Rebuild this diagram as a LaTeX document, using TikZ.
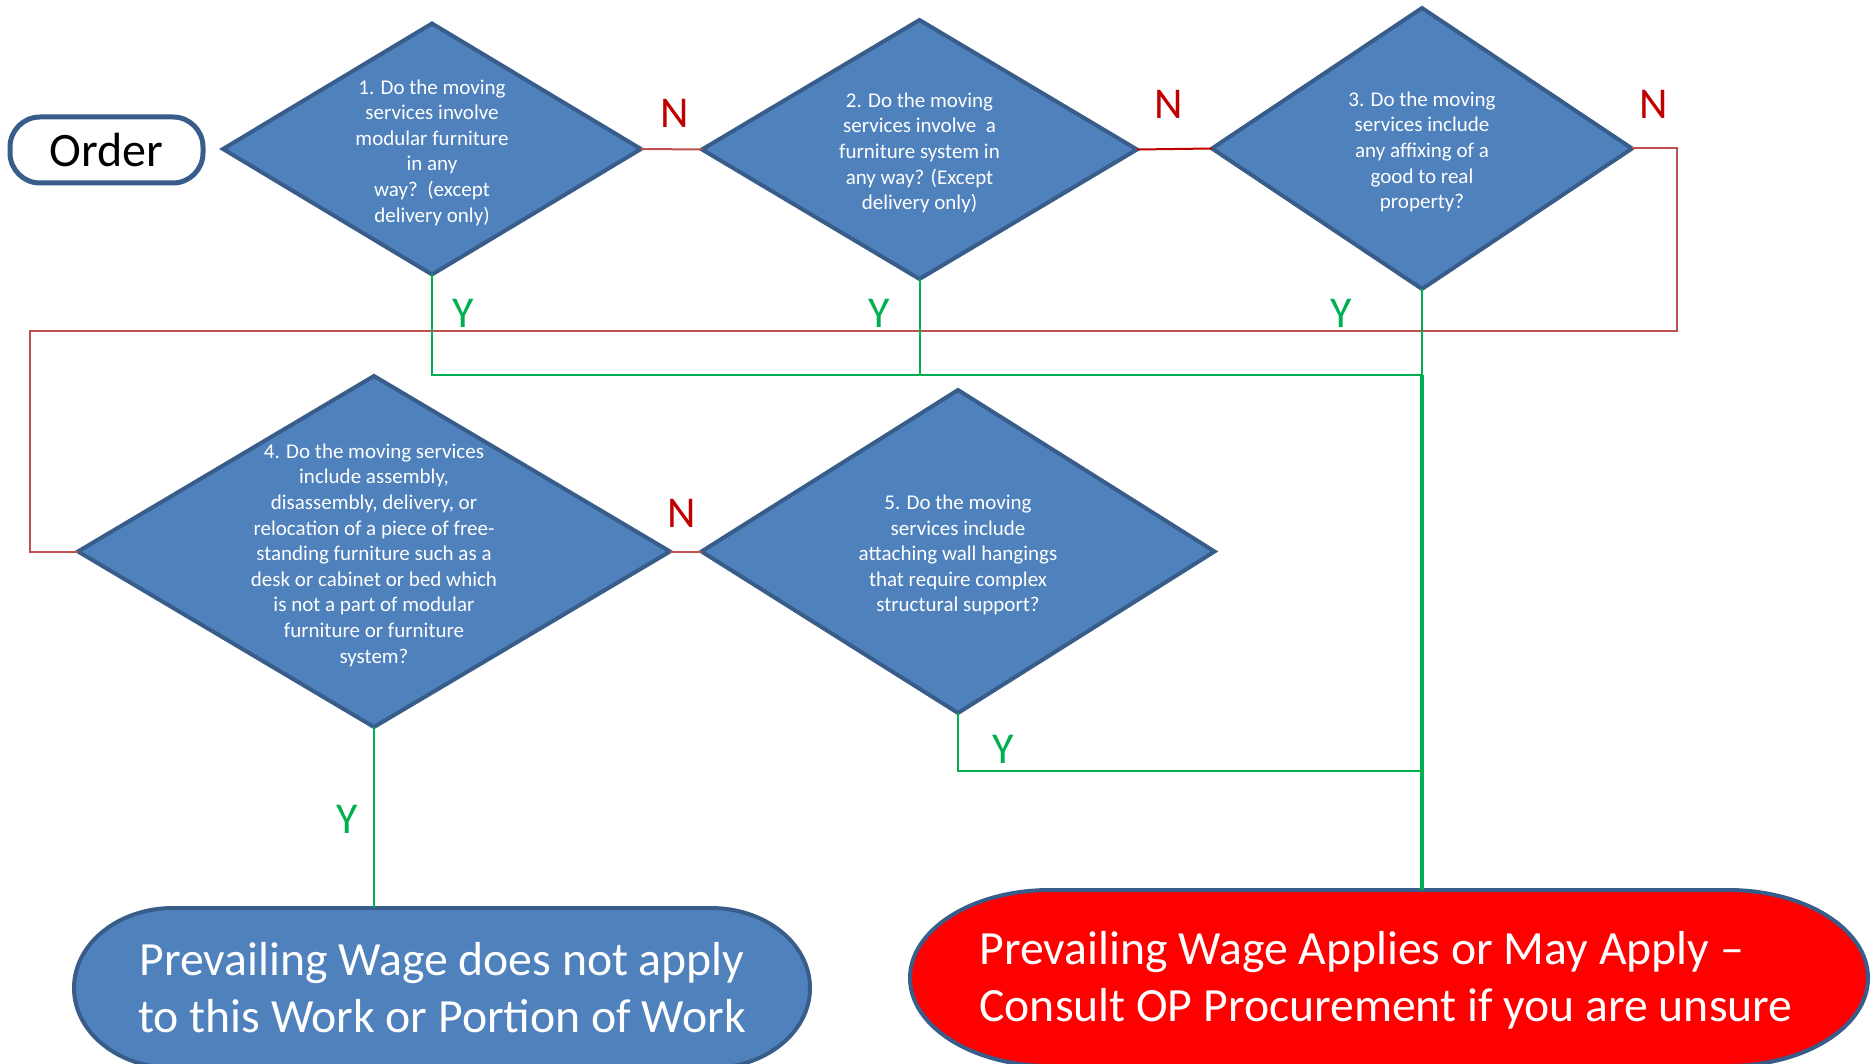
\documentclass[tikz,border=0pt]{standalone}
\usepackage{fontspec}
\setmainfont{Carlito}
\usetikzlibrary{shapes.geometric}
\definecolor{dfill}{HTML}{4F81BD}
\definecolor{dedge}{HTML}{385D8A}
\definecolor{nline}{HTML}{C0504D}
\definecolor{nlinedark}{HTML}{C00000}
\definecolor{ygreen}{HTML}{00B050}
\definecolor{ntxt}{HTML}{C00000}
\definecolor{termred}{HTML}{FF0000}
\begin{document}
\begin{tikzpicture}[x=1pt,y=-1pt,
  dia/.style={diamond, draw=dedge, fill=dfill, line width=4pt, inner sep=0pt, outer sep=0pt},
  dtext/.style={text=white, font=\fontsize{21}{25.6}\selectfont, align=center, inner sep=0pt, yshift=-3.5pt},
  nlab/.style={text=ntxt, font=\fontsize{44}{50}\selectfont, inner sep=0pt},
  ylab/.style={text=ygreen, font=\fontsize{44}{50}\selectfont, inner sep=0pt},
  rl/.style={draw=nline, line width=2pt},
  gl/.style={draw=ygreen, line width=2pt},
  gthick/.style={draw=ygreen, line width=3.2pt},
  termtext/.style={text=white, font=\fontsize{47.7}{57}\selectfont, inner sep=0pt},
  termshape/.style={draw=dedge, line width=4pt}
]
\useasboundingbox (0,0) rectangle (1872,1064);
\clip (0,0) rectangle (1872,1064);

% terminals
\filldraw[termshape, fill=dfill] (173,908) -- (711,908) arc[start angle=-90,end angle=90,x radius=99,y radius=80] -- (173,1068) arc[start angle=90,end angle=270,x radius=99,y radius=80] -- cycle;
\node[termtext, align=center] (tb) at (442,988) {Prevailing Wage does not apply\\to this Work or Portion of Work};
\filldraw[termshape, fill=termred] (1050,890) -- (1728,890) arc[start angle=-90,end angle=90,x radius=140,y radius=88] -- (1050,1066) arc[start angle=90,end angle=270,x radius=140,y radius=88] -- cycle;
\node[termtext, align=left] (tr) at (1386,980) {Prevailing Wage Applies or May Apply --\\Consult OP Procurement if you are unsure};
\coordinate (bttop) at (442,908);
\coordinate (trtop) at (1422,890);

% order
\node[draw=dedge, fill=white, line width=5pt, rounded corners=30pt, minimum width=193pt, minimum height=66pt, inner sep=0pt, font=\fontsize{48}{56}\selectfont] (order) at (106.5,150) {Order};

% diamonds
\node[dia, minimum width=418pt, minimum height=251pt] (d1) at (432,149) {};
\node[dtext] (t1) at (d1.center) {1. Do the moving\\services involve\\modular furniture\\in any\\way?\ \ (except\\delivery only)};
\node[dia, minimum width=435pt, minimum height=259pt] (d2) at (919.5,149.5) {};
\node[dtext] (t2) at (d2.center) {2. Do the moving\\services involve\ \ a\\furniture system in\\any way? (Except\\delivery only)};
\node[dia, minimum width=420pt, minimum height=281pt] (d3) at (1422,148.5) {};
\node[dtext] (t3) at (d3.center) {3. Do the moving\\services include\\any affixing of a\\good to real\\property?};
\node[dia, minimum width=592pt, minimum height=351pt] (d4) at (374,551.5) {};
\node[dtext] (t4) at (d4.center) {4. Do the moving services\\include assembly,\\disassembly, delivery, or\\relocation of a piece of free-\\standing furniture such as a\\desk or cabinet or bed which\\is not a part of modular\\furniture or furniture\\system?};
\node[dia, minimum width=513pt, minimum height=323pt] (d5) at (958,551.5) {};
\node[dtext] (t5) at (d5.center) {5. Do the moving\\services include\\attaching wall hangings\\that require complex\\structural support?};

% helper coordinates
\coordinate (r1) at (1677,331);
\coordinate (r2) at (30,331);
\coordinate (gj) at (1422,375);
\coordinate (gj2) at (1422,771);

% N connectors
\draw[rl] (d1.east) -- (d2.west);
\draw[rl, draw=nlinedark] (d2.east) -- (d3.west);
\draw[rl] (d3.east) -| (r1) -- (r2) |- (d4.west);
\draw[rl] (d4.east) -- (d5.west);

% Y connectors
\draw[gl] (d1.south) |- (gj);
\draw[gl] (d2.south) -- (d2.south |- gj);
\draw[gl] (d3.south) -- (gj);
\draw[gthick] (gj) -- (trtop);
\draw[gl] (d5.south) |- (gj2);
\draw[gl] (d4.south) -- (d4.south |- bttop);

% labels
\node[nlab] (n1) at (675,113) {N};
\node[nlab] (n2) at (1169,104) {N};
\node[nlab] (n3) at (1654,104) {N};
\node[nlab] (n4) at (682,513) {N};
\node[ylab] (y1) at (463,313) {Y};
\node[ylab] (y2) at (879,313) {Y};
\node[ylab] (y3) at (1341,313) {Y};
\node[ylab] (y5) at (1003,749) {Y};
\node[ylab] (y4) at (347,819) {Y};
\end{tikzpicture}
\end{document}
